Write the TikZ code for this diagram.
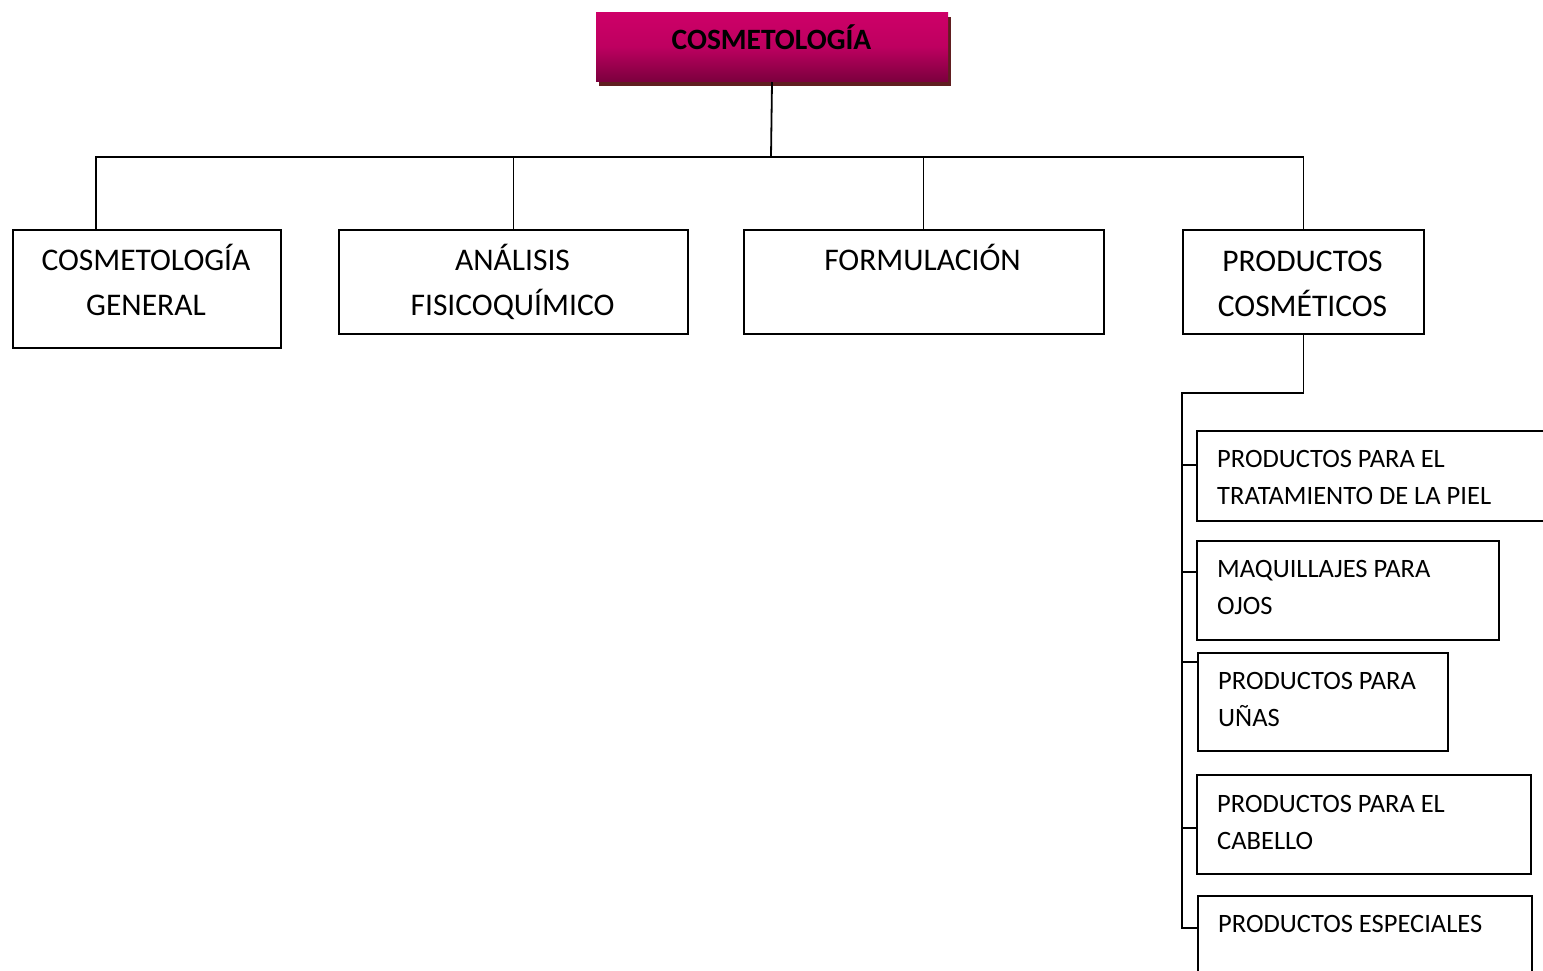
\documentclass[tikz,border=0pt]{standalone}
\usepackage{fontspec}
\setmainfont{Carlito}
\usetikzlibrary{shadows}
\definecolor{tittop}{RGB}{206,0,104}
\definecolor{titmid}{RGB}{190,0,96}
\definecolor{titbot}{RGB}{124,0,62}
\definecolor{titshadow}{RGB}{96,30,32}
\begin{document}
\begin{tikzpicture}[x=1pt,y=-1pt,
  box/.style={draw=black, line width=2pt, inner sep=0pt, anchor=north west},
  titlebox/.style={box, draw=none, top color=tittop, bottom color=titbot, middle color=titmid,
    general shadow={fill=titshadow, shadow xshift=3pt, shadow yshift=-5pt}},
  conn/.style={draw=black, line width=1.8pt},
  bigtext/.style={font=\fontsize{31.5}{45}\selectfont, align=center, inner sep=0pt, anchor=base},
  smalltext/.style={font=\fontsize{26.5}{37}\selectfont, align=left, inner sep=0pt, anchor=base west},
  titletext/.style={font=\fontsize{29.5}{34}\selectfont\bfseries, inner sep=0pt, anchor=base}]
\useasboundingbox (0,0) rectangle (1543,970);

% title
\node[titlebox, minimum width=352pt, minimum height=69pt] (title) at (595,11) {};
\node[titletext] (titlet) at (771.5,49) {COSMETOLOGÍA};

% main boxes
\node[box, minimum width=268pt, minimum height=118pt] (b1) at (11.5,229) {};
\node[box, minimum width=349pt, minimum height=104pt] (b2) at (338,229) {};
\node[box, minimum width=360pt, minimum height=104pt] (b3) at (742.5,229) {};
\node[box, minimum width=241pt, minimum height=104pt] (b4) at (1182,229) {};

% (base anchor = baseline of the last line)
\node[bigtext] (b1t) at (146,315) {COSMETOLOGÍA\\GENERAL};
\node[bigtext] (b2t) at (512.5,315) {ANÁLISIS\\FISICOQUÍMICO};
\node[bigtext] (b3t) at (922.5,270) {FORMULACIÓN};
\node[bigtext] (b4t) at (1302.5,316) {PRODUCTOS\\COSMÉTICOS};

% sub boxes
\node[box, minimum width=352pt, minimum height=90pt] (s1) at (1195.5,430) {};
\node[box, minimum width=302pt, minimum height=99pt] (s2) at (1195.5,540) {};
\node[box, minimum width=250pt, minimum height=98pt] (s3) at (1197,652) {};
\node[box, minimum width=334pt, minimum height=99pt] (s4) at (1195.5,774) {};
\node[box, minimum width=334pt, minimum height=85pt] (s5) at (1197,895) {};

\node[smalltext] (s1t) at (1217,504) {PRODUCTOS PARA EL\\TRATAMIENTO DE LA PIEL};
\node[smalltext] (s2t) at (1217,614) {MAQUILLAJES PARA\\OJOS};
\node[smalltext] (s3t) at (1218,726) {PRODUCTOS PARA\\UÑAS};
\node[smalltext] (s4t) at (1217,849) {PRODUCTOS PARA EL\\CABELLO};
\node[smalltext] (s5t) at (1218,932) {PRODUCTOS ESPECIALES};

% connectors, top level
\coordinate (j) at (771,157);
\coordinate (h1) at (96,157);
\draw[conn] (title.south) -- (j);
\draw[conn, line cap=rect] (h1) -- (h1 -| b4.north);
\draw[conn] (h1) -- (h1 |- b1.north);
\draw[conn] (j -| b2.north) -- (b2.north);
\draw[conn] (j -| b3.north) -- (b3.north);
\draw[conn] (j -| b4.north) -- (b4.north);

% connectors, sub level
\coordinate (sp) at (1182,393);
\coordinate (t1) at (1182,465);
\coordinate (t2) at (1182,572);
\coordinate (t3) at (1182,662);
\coordinate (t4) at (1182,828);
\coordinate (t5) at (1182,928);
\draw[conn] (b4.south) |- (sp) -- (t5) -- (t5 -| s5.west);
\draw[conn] (t1) -- (t1 -| s1.west);
\draw[conn] (t2) -- (t2 -| s2.west);
\draw[conn] (t3) -- (t3 -| s3.west);
\draw[conn] (t4) -- (t4 -| s4.west);
\end{tikzpicture}
\end{document}
